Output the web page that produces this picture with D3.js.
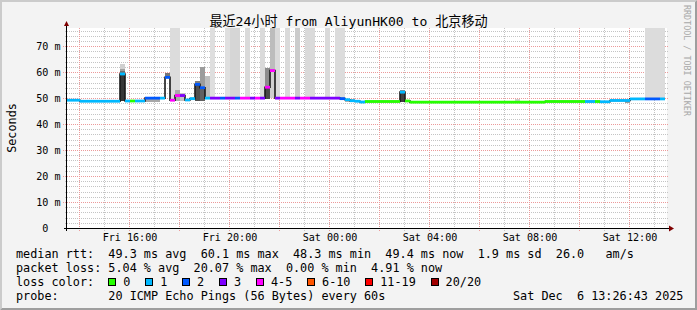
<!doctype html>
<html lang="zh-CN">
  <head>
    <meta charset="UTF-8" />
    <title>Smokeping</title>
    <style>
      body { margin: 0; background: #f3f3f3; }
      svg text { font-family: "DejaVu Sans Mono", "Noto Sans CJK SC", monospace; white-space: pre; }
    </style>
  </head>
  <body>
    <div id="target"></div>
    <script src="https://d3js.org/d3.v7.min.js"></script>
    <script>
      /* global d3 */

      // ---- data ----
      const titleText = "最近24小时 from AliyunHK00 to 北京移动";
      // one sample every 12 minutes, first step starts Fri 13:26:24
      const firstStep = Date.UTC(2025, 11, 5, 13, 26, 24);
      const stepMs = 12 * 60 * 1000;
      const viewStart = Date.UTC(2025, 11, 5, 13, 31, 12);
      const viewEnd = Date.UTC(2025, 11, 6, 13, 31, 12);
      const yMax = 77; // ms

      // median rtt per step (ms)
      const medianMs = [
        49.2, 49.2, 49.2, 48.8, 48.8, 48.8, 48.8, 48.8, 48.8, 48.8,
        48.8, 59.3, 48.9, 48.9, 48.9, 48.9, 50.0, 50.0, 50.0, 50.0,
        58.0, 49.2, 51.0, 51.0, 49.3, 49.8, 55.3, 54.0, 50.0, 50.0,
        50.0, 50.0, 50.0, 50.0, 50.0, 50.0, 50.0, 50.0, 50.0, 50.0,
        54.2, 60.6, 50.0, 50.0, 50.0, 50.0, 50.0, 50.0, 50.0, 50.0,
        50.0, 50.0, 50.0, 50.0, 50.0, 49.8, 49.4, 49.0, 48.8, 48.5,
        48.7, 48.7, 48.7, 48.7, 48.7, 48.7, 48.7, 52.3, 48.9, 48.45,
        48.45, 48.45, 48.45, 48.45, 48.45, 48.45, 48.45, 48.45, 48.45, 48.45,
        48.45, 48.45, 48.45, 48.45, 48.45, 48.45, 48.45, 48.45, 48.45, 48.45,
        48.45, 48.45, 48.45, 48.45, 48.45, 48.45, 48.7, 48.7, 48.7, 48.7,
        48.7, 48.7, 48.7, 48.7, 48.7, 48.7, 48.7, 48.6, 48.6, 49.1,
        49.1, 49.1, 49.1, 49.7, 49.7, 49.7, 49.7, 49.7, 49.7, 49.7
      ];
      // lost pings (of 20) per step
      const lostPings = [
        1, 1, 1, 1, 1, 1, 1, 1, 1, 1,
        1, 1, 1, 0, 1, 1, 2, 2, 2, 1,
        2, 4, 4, 3, 1, 1, 2, 2, 1, 3,
        3, 2, 3, 3, 2, 4, 4, 3, 4, 3,
        4, 4, 3, 4, 4, 4, 3, 4, 4, 3,
        3, 3, 3, 3, 3, 2, 1, 1, 1, 1,
        0, 0, 0, 0, 0, 0, 0, 1, 0, 0,
        0, 0, 0, 0, 0, 0, 0, 0, 0, 0,
        0, 0, 0, 0, 0, 0, 0, 0, 0, 0,
        0, 0, 0, 0, 0, 0, 0, 0, 0, 0,
        0, 0, 0, 0, 1, 1, 0, 1, 1, 1,
        1, 1, 1, 1, 1, 1, 2, 2, 2, 1
      ];

      // smoke bands: step index, from ms, to ms, gray tone
      const smokeStep = [11, 11, 11, 11, 16, 17, 18, 20, 21, 22, 22, 23, 26, 26, 27, 27, 28, 29, 32, 33, 34, 36, 39,
        40, 40, 41, 41, 42, 44, 46, 48, 49, 52, 54, 55, 56, 57, 67, 67, 90, 112, 116, 117, 118, 119];
      const smokeFrom = [48.8, 59.5, 60.5, 61.4, 48.5, 48.5, 48.5, 58.0, 49.2, 49.0, 48.8, 48.8, 49.0, 55.3, 49.0, 54.0, 50.0, 50, 50, 50, 50, 50, 50,
        49.5, 54.2, 50, 60.6, 50, 50, 50, 50, 50, 50, 50, 49.8, 48.4, 48.4, 48.5, 52.3, 48.4, 48.3, 49.6, 49.6, 49.6, 49.6];
      const smokeTo = [59.5, 60.5, 61.4, 63.3, 49.6, 49.6, 49.6, 59.7, 99, 99, 53.0, 51.8, 55.3, 56.6, 54.0, 62.0, 58.6, 99, 99, 99, 99, 99, 99,
        54.2, 61.7, 60.6, 99, 99, 99, 99, 99, 99, 99, 99, 99, 49.8, 49.8, 52.3, 53.1, 49.6, 49.1, 99, 99, 99, 99];
      const smokeTone = ["#383838", "#707070", "#a0a0a0", "#d0d0d0", "#a8a8a8", "#a8a8a8", "#a8a8a8", "#777777", "#dcdcdc", "#dcdcdc",
        "#aaaaaa", "#c4c4c4", "#505050", "#808080", "#606060", "#9c9c9c", "#bdbdbd", "#dedede", "#e0e0e0", "#d6d6d6", "#d6d6d6",
        "#dadada", "#dadada", "#484848", "#8c8c8c", "#cfcfcf", "#bcbcbc", "#dadada", "#dadada", "#cccccc", "#dadada", "#dadada",
        "#dadada", "#dcdcdc", "#dcdcdc", "#b0b0b0", "#b0b0b0", "#404040", "#8a8a8a", "#d0d0d0", "#9a9a9a", "#dcdcdc", "#dcdcdc",
        "#dcdcdc", "#dcdcdc"];

      const lossLabels = ["0", "1", "2", "3", "4-5", "6-10", "11-19", "20/20"];
      const lossColors = ["#26ff00", "#00b8ff", "#0059ff", "#7e00ff", "#ff00ff", "#ff5500", "#ff0000", "#a10000"];
      const rttStats = ["49.3 ms avg", "60.1 ms max", "48.3 ms min", "49.4 ms now", "1.9 ms sd", "26.0   am/s"];
      const lossStats = ["5.04 % avg", "20.07 % max", "0.00 % min", "4.91 % now"];
      const probeText = "20 ICMP Echo Pings (56 Bytes) every 60s";
      const stampText = "Sat Dec  6 13:26:43 2025";

      // ---- layout ----
      const width = 697, height = 310;
      const plot = { left: 67, right: 667, top: 28, bottom: 228 };
      const nb = (s) => s.replace(/ /g, "\u00a0");
      const lossBucket = (n) => (n <= 3 ? n : n <= 5 ? 4 : n <= 10 ? 5 : n <= 19 ? 6 : 7);

      const xScale = d3.scaleUtc().domain([viewStart, viewEnd]).range([plot.left, plot.right]);
      const yScale = d3.scaleLinear().domain([0, yMax]).range([plot.bottom, plot.top]);
      const stepTime = (k) => new Date(firstStep + k * stepMs);

      const svg = d3.select("#target").append("svg")
        .attr("width", width).attr("height", height)
        .attr("viewBox", [0, 0, width, height]);

      svg.append("rect").attr("width", width).attr("height", height).attr("fill", "#f3f3f3");
      svg.append("path").attr("fill", "#cbcbcb")
        .attr("d", `M0,${height}L2,${height - 2}L2,2L${width - 2},2L${width},0L0,0Z`);
      svg.append("path").attr("fill", "#9e9e9e")
        .attr("d", `M2,${height - 2}L${width - 2},${height - 2}L${width - 2},2L${width},0L${width},${height}L0,${height}Z`);

      svg.append("rect")
        .attr("x", plot.left).attr("y", plot.top)
        .attr("width", plot.right - plot.left).attr("height", plot.bottom - plot.top)
        .attr("fill", "#ffffff");

      svg.append("clipPath").attr("id", "clip").append("rect")
        .attr("x", plot.left).attr("y", plot.top)
        .attr("width", plot.right - plot.left).attr("height", plot.bottom - plot.top);

      // grid
      const grid = svg.append("g").attr("shape-rendering", "crispEdges").attr("stroke-dasharray", "1,1");
      d3.range(2, yMax, 2).forEach((v) => {
        const major = v % 10 === 0;
        const yy = Math.round(yScale(v)) + 0.5;
        grid.append("line")
          .attr("x1", major ? plot.left - 4 : plot.left - 2).attr("x2", plot.right + 2)
          .attr("y1", yy).attr("y2", yy)
          .attr("stroke", major ? "#ec9a9a" : "#c4c4c4");
      });
      d3.utcHour.range(viewStart, viewEnd).forEach((t) => {
        const major = t.getUTCHours() % 2 === 0;
        const xx = Math.round(xScale(t)) + 0.5;
        grid.append("line")
          .attr("x1", xx).attr("x2", xx)
          .attr("y1", plot.top).attr("y2", plot.bottom + 3)
          .attr("stroke", major ? "#ec9a9a" : "#c4c4c4");
      });

      // smoke
      const data = svg.append("g").attr("clip-path", "url(#clip)");
      data.append("g").attr("shape-rendering", "crispEdges")
        .selectAll("rect")
        .data(smokeStep.map((k, i) => ({ k, from: smokeFrom[i], to: smokeTo[i], tone: smokeTone[i] })))
        .join("rect")
        .attr("x", (d) => xScale(stepTime(d.k)))
        .attr("width", (d) => xScale(stepTime(d.k + 1)) - xScale(stepTime(d.k)))
        .attr("y", (d) => yScale(Math.min(d.to, yMax + 1)))
        .attr("height", (d) => yScale(d.from) - yScale(Math.min(d.to, yMax + 1)))
        .attr("fill", (d) => d.tone);

      // median: dark step line (gives the vertical edges), then one coloured bar per step
      const pts = medianMs.map((m, k) => ({ t: stepTime(k), m }));
      pts.push({ t: stepTime(medianMs.length), m: medianMs[medianMs.length - 1] });
      const line = d3.line().x((d) => xScale(d.t)).y((d) => yScale(d.m)).curve(d3.curveStepAfter);
      data.append("path").attr("d", line(pts))
        .attr("fill", "none").attr("stroke", "#1a1a1a").attr("stroke-width", 1.6);

      data.append("g").selectAll("line").data(medianMs).join("line")
        .attr("x1", (m, k) => xScale(stepTime(k)))
        .attr("x2", (m, k) => xScale(stepTime(k + 1)))
        .attr("y1", (m) => yScale(m))
        .attr("y2", (m) => yScale(m))
        .attr("stroke", (m, k) => lossColors[lossBucket(lostPings[k])])
        .attr("stroke-width", 2.8);

      // axes
      const axis = svg.append("g").attr("shape-rendering", "crispEdges").attr("stroke", "#000");
      axis.append("line").attr("x1", plot.left - 3).attr("x2", plot.right + 3)
        .attr("y1", plot.bottom + 0.5).attr("y2", plot.bottom + 0.5);
      axis.append("line").attr("x1", plot.left - 0.5).attr("x2", plot.left - 0.5)
        .attr("y1", plot.bottom + 3).attr("y2", plot.top - 3);
      svg.append("path").attr("fill", "#7f0000")
        .attr("d", `M${plot.left - 3},${plot.top - 2}L${plot.left + 2},${plot.top - 2}L${plot.left - 0.5},${plot.top - 7}Z`);
      svg.append("path").attr("fill", "#7f0000")
        .attr("d", `M${plot.right + 2},${plot.bottom - 2.5}L${plot.right + 2},${plot.bottom + 3.5}L${plot.right + 7},${plot.bottom + 0.5}Z`);

      // y labels
      svg.append("g").selectAll("text").data(d3.range(0, yMax, 10)).join("text")
        .attr("x", 60.5).attr("y", (v) => yScale(v) + 3.6)
        .attr("text-anchor", "end").attr("font-size", "10.1px")
        .text((v) => nb(v === 0 ? "0  " : `${v} m`));

      // x labels
      const fmt = d3.utcFormat("%a %H:%M");
      svg.append("g").selectAll("text").data(xScale.ticks(d3.utcHour.every(4))).join("text")
        .attr("x", (t) => xScale(t) + 1).attr("y", 241)
        .attr("text-anchor", "middle").attr("font-size", "10.1px")
        .text((t) => nb(fmt(t)));

      // title, unit, watermark
      svg.append("text").attr("x", width / 2).attr("y", 26)
        .attr("text-anchor", "middle").attr("font-size", "13.1px").text(titleText);
      svg.append("text").attr("transform", `translate(15.5,${(plot.top + plot.bottom) / 2}) rotate(-90)`)
        .attr("text-anchor", "middle").attr("font-size", "11.8px").text("Seconds");
      svg.append("text").attr("transform", "translate(684,5) rotate(90)")
        .attr("font-size", "8.4px").attr("fill", "#a8a8a8").text(nb("RRDTOOL / TOBI OETIKER"));

      // legend
      const lg = svg.append("g").attr("font-size", "11.8px");
      lg.append("text").attr("x", 16).attr("y", 257.5).text(nb("median rtt:  " + rttStats.join("  ")));
      lg.append("text").attr("x", 16).attr("y", 271.5).text(nb("packet loss: " + lossStats.join("  ")));
      lg.append("text").attr("x", 16).attr("y", 285.5).text(nb("loss color:"));
      lg.append("text").attr("x", 16).attr("y", 299.5).text(nb("probe:       " + probeText));
      lg.append("text").attr("x", 513).attr("y", 299.5).text(nb(stampText));

      let bx = 108.3;
      lossLabels.forEach((lab, i) => {
        lg.append("rect").attr("x", Math.round(bx) + 0.5).attr("y", 278.5).attr("width", 7).attr("height", 7)
          .attr("fill", lossColors[i]).attr("stroke", "#000").attr("shape-rendering", "crispEdges");
        const t = lg.append("text").attr("x", bx + 15).attr("y", 285.5).text(lab);
        bx = bx + 15 + t.node().getComputedTextLength() + 14.8;
      });
    </script>
  </body>
</html>
